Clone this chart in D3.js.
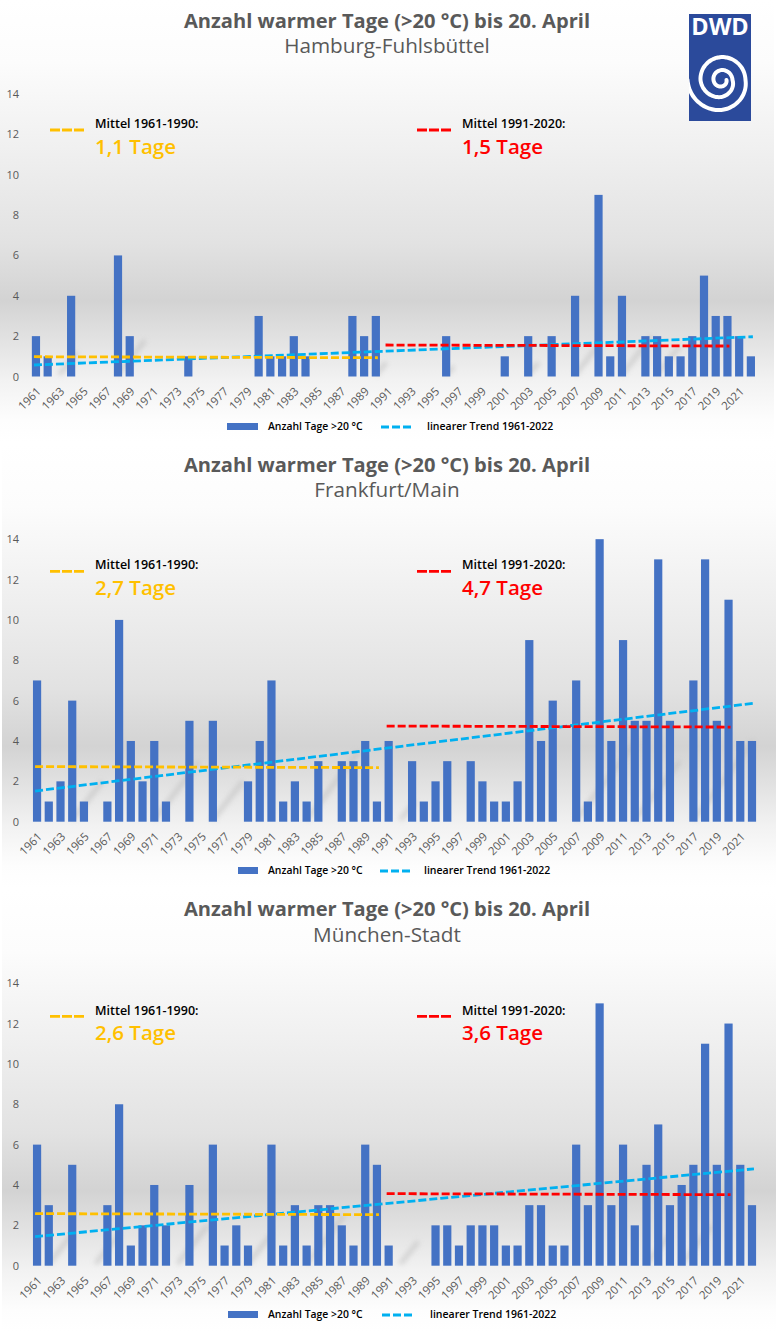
<!DOCTYPE html>
<html>
<head>
<meta charset="utf-8">
<script src="https://cdn.jsdelivr.net/npm/d3@7"></script>
<style>
  html, body { margin: 0; padding: 0; background: #fff; }
  svg { display: block; }
  text { font-family: "Open Sans", sans-serif; }
</style>
</head>
<body>
<svg id="chart" width="776" height="1332"></svg>
<script>
var years = d3.range(1961, 2023);
var yTicks = [0, 2, 4, 6, 8, 10, 12, 14];
var yearTicks = years.filter(function(d) { return d % 2 == 1; });

var hamburgValues = [2,1,0,4,0,0,0,6,2,0,0,0,0,1,0,0,0,0,0,3,1,1,2,1,0,0,0,3,2,3,0,0,0,0,0,2,0,0,0,0,1,0,2,0,2,0,4,0,9,1,4,0,2,2,1,1,2,5,3,3,2,1];
var frankfurtValues = [7,1,2,6,1,0,1,10,4,2,4,1,0,5,0,5,0,0,2,4,7,1,2,1,3,0,3,3,4,1,4,0,3,1,2,3,0,3,2,1,1,2,9,4,6,0,7,1,14,4,9,5,5,13,5,0,7,13,5,11,4,4];
var muenchenValues = [6,3,0,5,0,0,3,8,1,2,4,2,0,4,0,6,1,2,1,0,6,1,3,1,3,3,2,1,6,5,1,0,0,0,2,2,1,2,2,2,1,1,3,3,1,1,6,3,13,3,6,2,5,7,3,4,5,11,5,12,5,3];

var stationNames = ["Hamburg-Fuhlsbüttel", "Frankfurt/Main", "München-Stadt"];
var stationValues = [hamburgValues, frankfurtValues, muenchenValues];
var mean6190Labels = ["1,1 Tage", "2,7 Tage", "2,6 Tage"];
var mean9120Labels = ["1,5 Tage", "4,7 Tage", "3,6 Tage"];

// drawn level of each line at its first and last year
var mean6190Lines = [[0.98, 0.93], [2.73, 2.68], [2.58, 2.53]];
var mean9120Lines = [[1.56, 1.51], [4.74, 4.69], [3.57, 3.52]];
var trendLines = [[0.57, 1.97], [1.52, 5.87], [1.44, 4.8]];

// [start year, height in days] of the faint smears behind the bars
var hamburgSmears = [[1963, 1.2], [1968, 1.8], [1990, 0.7], [1996, 0.5], [2003, 0.7], [2007, 1.5], [2011, 2], [2014, 1.5]];
var frankfurtSmears = [[1964, 2], [1971, 3], [1976, 2], [1984, 3.5], [1992, 1], [2007, 4], [2012, 3], [2017, 4]];
var muenchenSmears = [[1962, 1.5], [1966, 1.5], [1973, 2], [1979, 1.5], [1984, 2.5], [1992, 1.2], [2016, 2], [2013, 1.5]];
var stationSmears = [hamburgSmears, frankfurtSmears, muenchenSmears];

var panelTops = [0, 445, 890];
var panelHeights = [442, 443, 442];
var titleYs = [28, 471.5, 915.5];
var subtitleYs = [53.3, 497.3, 942];
var keyDashYs = [130, 571.3, 1016.3];
var keyHeadYs = [128, 569, 1015];
var keyLabelYs = [153.5, 594.5, 1040];
var baseYs = [376.5, 821.7, 1265.7];
var plotLefts = [30.1, 31.2, 31.2];
var legendYs = [426, 870, 1314];
var legendSwatches = [[227, 258], [238, 258], [228, 258]];
var legendDashes = [[381, 414], [380, 410], [382, 415]];
var legendTextXs = [427, 424, 430];

// radius of the logo spiral every quarter turn
var spiralRadii = [5, 6.5, 8, 10, 11, 17, 21, 23, 24, 30, 34];

var svg = d3.select("#chart");
var defs = svg.append("defs");

var grad = defs.append("linearGradient")
  .attr("id", "panelBg")
  .attr("x1", 0).attr("y1", 0).attr("x2", 0).attr("y2", 1);
[[0, "#ffffff"], [0.14, "#fcfcfc"], [0.35, "#efefef"], [0.55, "#e2e2e2"], [0.68, "#d3d3d3"], [0.78, "#e4e4e4"], [0.86, "#f2f2f2"], [0.95, "#fdfdfd"], [1, "#ffffff"]]
  .forEach(function(s) {
    grad.append("stop").attr("offset", s[0]).attr("stop-color", s[1]);
  });

defs.append("filter").attr("id", "soft")
  .attr("x", "-50%").attr("y", "-50%").attr("width", "200%").attr("height", "200%")
  .append("feGaussianBlur").attr("stdDeviation", 2.5);

stationNames.forEach(function(name, i) {
  var base = baseYs[i];
  var x = d3.scaleBand().domain(years)
    .range([plotLefts[i], plotLefts[i] + 11.72 * years.length])
    .paddingInner(0.3).paddingOuter(0.15);
  var y = d3.scaleLinear().domain([0, 14]).range([base, base - 14 * 20.18]);
  var mid = function(d) { return x(d) + x.bandwidth() / 2; };

  var g = svg.append("g");

  g.append("rect")
    .attr("x", i == 0 ? 0 : 2).attr("y", panelTops[i])
    .attr("width", 774).attr("height", panelHeights[i])
    .attr("fill", "url(#panelBg)");

  g.selectAll(".smear").data(stationSmears[i]).enter().append("line")
    .attr("class", "smear")
    .attr("x1", function(d) { return mid(d[0]); })
    .attr("y1", y(0) - 2)
    .attr("x2", function(d) { return mid(d[0]) + d[1] * 15; })
    .attr("y2", function(d) { return y(d[1]); })
    .attr("stroke", "#bdbdbd").attr("stroke-width", 5)
    .attr("opacity", 0.55)
    .attr("filter", "url(#soft)");

  g.append("text").attr("x", 387).attr("y", titleYs[i])
    .attr("text-anchor", "middle")
    .attr("font-size", 20.1).attr("font-weight", 700).attr("fill", "#595959")
    .text("Anzahl warmer Tage (>20 °C) bis 20. April");
  g.append("text").attr("x", 387).attr("y", subtitleYs[i])
    .attr("text-anchor", "middle")
    .attr("font-size", 20.7).attr("fill", "#595959")
    .text(name);

  var yAxis = d3.axisLeft(y).tickValues(yTicks).tickSize(0).tickPadding(0);
  var yG = g.append("g").attr("transform", "translate(19,0)").call(yAxis);
  yG.select(".domain").remove();
  yG.selectAll("text").attr("font-size", 11).attr("fill", "#595959");

  var xAxis = d3.axisBottom(x).tickValues(yearTicks).tickSize(0).tickPadding(0);
  var xG = g.append("g").attr("transform", "translate(0," + (base + 10) + ")").call(xAxis);
  xG.select(".domain").remove();
  xG.selectAll("text")
    .attr("font-size", 11.5).attr("fill", "#595959")
    .attr("text-anchor", "end").attr("dy", "0.7em")
    .attr("transform", "rotate(-45)");

  g.selectAll(".bar").data(years).enter().append("rect")
    .attr("class", "bar")
    .attr("x", function(d) { return x(d); })
    .attr("width", x.bandwidth())
    .attr("y", function(d, j) { return y(stationValues[i][j]); })
    .attr("height", function(d, j) { return y(0) - y(stationValues[i][j]); })
    .attr("fill", "#4472c4");

  var line = d3.line().x(function(d) { return d[0]; }).y(function(d) { return y(d[1]); });
  var drawLine = function(fromYear, toYear, levels, colour) {
    g.append("path")
      .attr("d", line([[mid(fromYear) - 2, levels[0]], [mid(toYear) + 2, levels[1]]]))
      .attr("fill", "none").attr("stroke", colour)
      .attr("stroke-width", 2.8).attr("stroke-dasharray", "8,3");
  };
  drawLine(1961, 2022, trendLines[i], "#00b0f0");
  drawLine(1961, 1990, mean6190Lines[i], "#ffc000");
  drawLine(1991, 2020, mean9120Lines[i], "#ff0000");

  // the two period keys above the bars
  var keys = [
    { x0: 50, tx: 95, head: "Mittel 1961-1990:", label: mean6190Labels[i], colour: "#ffc000" },
    { x0: 417, tx: 462, head: "Mittel 1991-2020:", label: mean9120Labels[i], colour: "#ff0000" }
  ];
  keys.forEach(function(k) {
    g.append("line")
      .attr("x1", k.x0).attr("x2", k.x0 + 34)
      .attr("y1", keyDashYs[i]).attr("y2", keyDashYs[i])
      .attr("stroke", k.colour).attr("stroke-width", 2.8).attr("stroke-dasharray", "10,2");
    g.append("text").attr("x", k.tx).attr("y", keyHeadYs[i])
      .attr("font-size", 12.5).attr("font-weight", 600).attr("fill", "#000")
      .text(k.head);
    g.append("text").attr("x", k.tx).attr("y", keyLabelYs[i])
      .attr("font-size", 20.5).attr("font-weight", 600).attr("fill", k.colour)
      .text(k.label);
  });

  // legend
  var ly = legendYs[i];
  g.append("rect").attr("x", legendSwatches[i][0]).attr("y", ly - 3)
    .attr("width", legendSwatches[i][1] - legendSwatches[i][0]).attr("height", 7)
    .attr("fill", "#4472c4");
  g.append("text").attr("x", 268).attr("y", ly + 4)
    .attr("font-size", 10.4).attr("font-weight", 600).attr("fill", "#000")
    .text("Anzahl Tage >20 °C");
  g.append("line")
    .attr("x1", legendDashes[i][0]).attr("x2", legendDashes[i][1])
    .attr("y1", ly + 1).attr("y2", ly + 1)
    .attr("stroke", "#00b0f0").attr("stroke-width", 2.8).attr("stroke-dasharray", "8,3");
  g.append("text").attr("x", legendTextXs[i]).attr("y", ly + 4)
    .attr("font-size", 10.5).attr("font-weight", 600).attr("fill", "#000")
    .text("linearer Trend 1961-2022");
});

// DWD logo
var logo = svg.append("g");
defs.append("clipPath").attr("id", "logoClip").append("rect")
  .attr("x", 689).attr("y", 14).attr("width", 62).attr("height", 107);
logo.append("rect").attr("x", 689).attr("y", 14).attr("width", 62).attr("height", 107).attr("fill", "#2b4a9b");
logo.append("text").attr("x", 720).attr("y", 35)
  .attr("text-anchor", "middle").attr("font-size", 23.5).attr("font-weight", 700)
  .attr("fill", "#fff").text("DWD");
var spiralRadius = d3.scaleLinear().domain(d3.range(spiralRadii.length)).range(spiralRadii);
var spiralPath = d3.lineRadial()
  .curve(d3.curveBasis)
  .angle(function(q) { return (q + 1) * Math.PI / 2; })
  .radius(function(q) { return spiralRadius(q); });
logo.append("path")
  .attr("transform", "translate(721.5,80)")
  .attr("d", spiralPath(d3.range(0, 10.01, 0.05)))
  .attr("fill", "none").attr("stroke", "#fff").attr("stroke-width", 4)
  .attr("stroke-linecap", "round");
// lineRadial angles run clockwise from the top, so q = 0 starts on the right
logo.select("path").attr("clip-path", null);
logo.selectAll("path").attr("clip-path", "url(#logoPanelClip)");
defs.append("clipPath").attr("id", "logoPanelClip").append("rect")
  .attr("x", -32.5).attr("y", -66).attr("width", 62).attr("height", 107);
</script>
</body>
</html>
